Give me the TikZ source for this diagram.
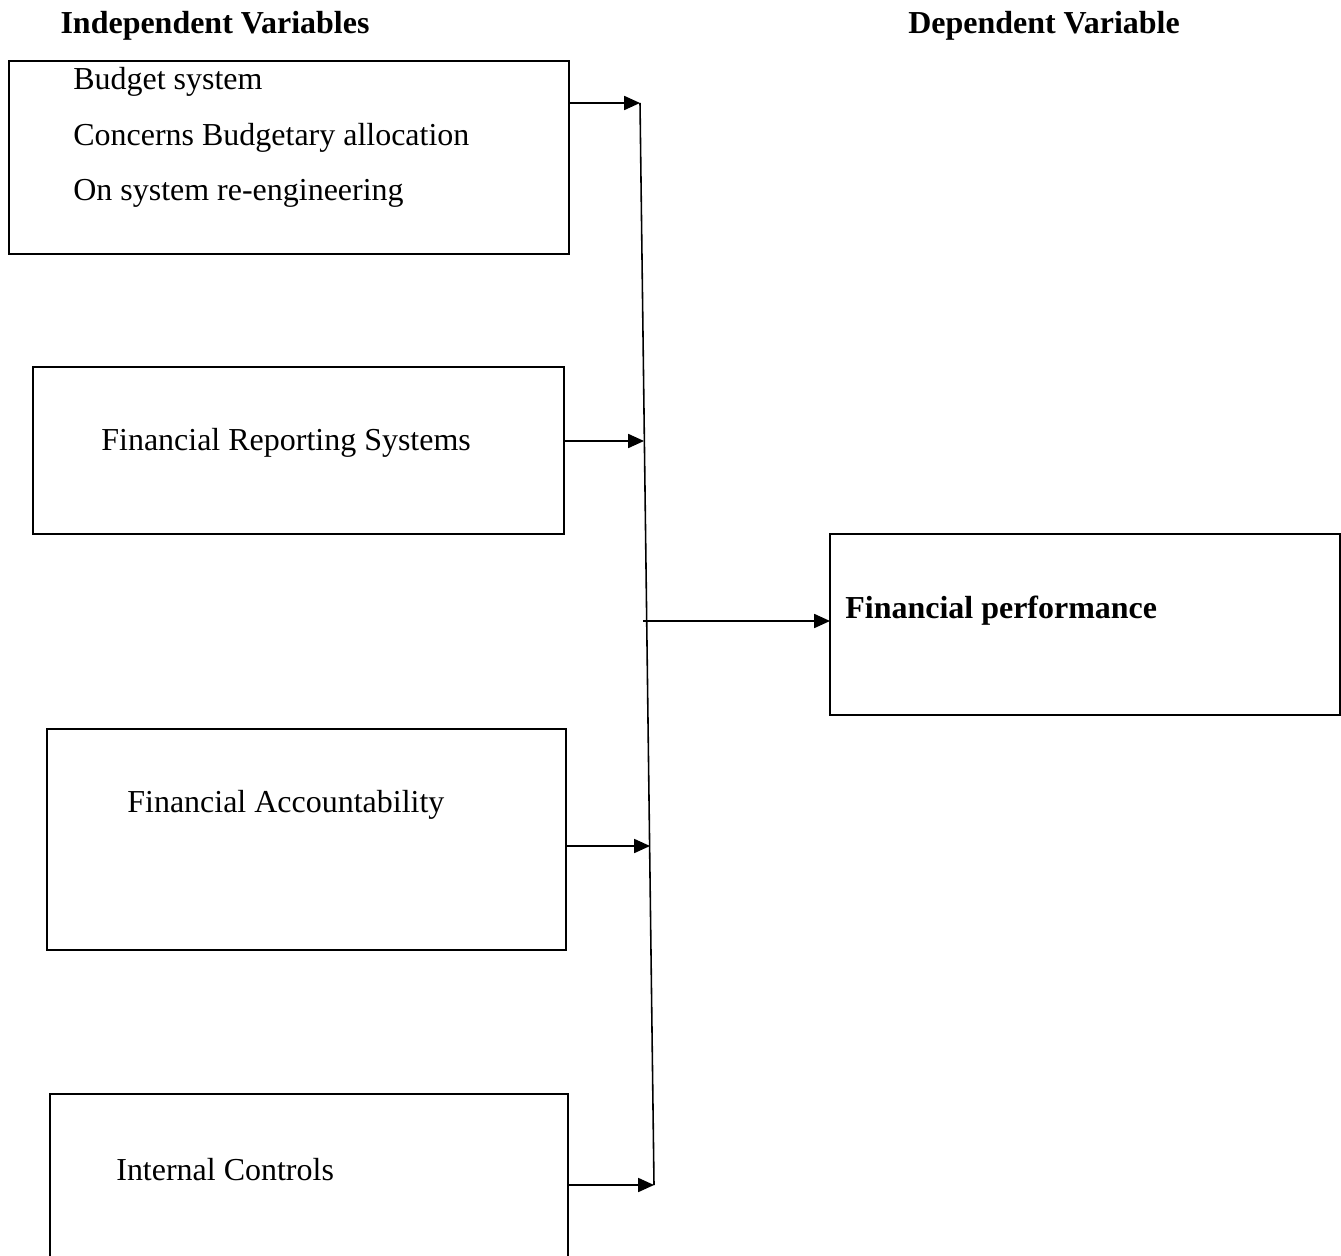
\documentclass[tikz,border=0pt]{standalone}
\usepackage{fontspec}
\setmainfont{Liberation Serif}
\usetikzlibrary{arrows.meta}

\tikzset{
	varbox/.style={draw, line width=0.8pt, anchor=north west, inner sep=0pt, outer sep=0pt},
	vartext/.style={anchor=west, inner sep=0pt, font=\fontsize{18.2}{21}\selectfont},
	headtext/.style={inner sep=0pt, font=\fontsize{18.2}{21}\selectfont\bfseries},
	feed/.style={line width=0.8pt, -{Triangle[length=9pt, width=8pt]}}
}

\begin{document}
\begin{tikzpicture}[x=0.02cm, y=-0.02cm]

	\useasboundingbox (0,0) rectangle (1341,1256);

	% headings
	\node [headtext] (indep) at (215,26) {Independent Variables};
	\node [headtext] (dep) at (1044,26) {Dependent Variable};

	% boxes
	\node [varbox, minimum width=11.2cm, minimum height=3.86cm] (budget) at (9,61) {};
	\node [varbox, minimum width=10.62cm, minimum height=3.34cm] (report) at (33,367) {};
	\node [varbox, minimum width=10.38cm, minimum height=4.42cm] (account) at (47,729) {};
	\node [varbox, draw=none, minimum width=10.36cm, minimum height=3.24cm] (control) at (50,1094) {};
	\draw [line width=0.8pt] (control.south west) |- (control.north east) -- (control.south east);
	\node [varbox, minimum width=10.2cm, minimum height=3.62cm] (perf) at (830,534) {};

	% texts
	\node [vartext] (budget1) at (73,82) {Budget system};
	\node [vartext] (budget2) at (73,138) {Concerns Budgetary allocation};
	\node [vartext] (budget3) at (73,193) {On system re-engineering};
	\node [vartext] (reporttext) at (101,443) {Financial Reporting Systems};
	\node [vartext] (accounttext) at (127,805) {Financial Accountability};
	\node [vartext] (controltext) at (116,1170) {Internal Controls};
	\node [vartext, font=\fontsize{18.2}{21}\selectfont\bfseries] (perftext) at (845,611) {Financial performance};

	% bus line
	\coordinate (j1) at (640,103);
	\coordinate (j2) at (644,441);
	\coordinate (jout) at (643,621);
	\coordinate (j3) at (650,846);
	\coordinate (j4) at (654,1185);
	\draw [line width=0.9pt] (j1) -- (j4);

	% arrows
	\draw [feed] (budget.east |- j1) -- (j1);
	\draw [feed] (report.east |- j2) -- (j2);
	\draw [feed] (account.east |- j3) -- (j3);
	\draw [feed] (control.east |- j4) -- (j4);
	\draw [feed] (jout) -- (perf.west |- jout);

\end{tikzpicture}
\end{document}
